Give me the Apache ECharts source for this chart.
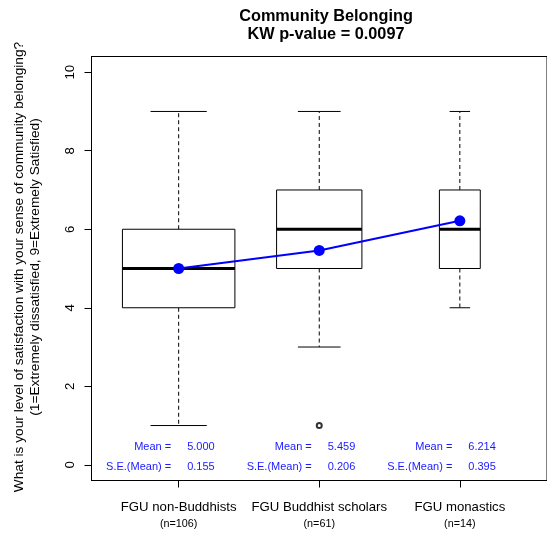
<!DOCTYPE html>
<html>
<head>
<meta charset="utf-8">
<script src="https://cdn.jsdelivr.net/npm/echarts@6/dist/echarts.min.js"></script>
<style>html,body{margin:0;padding:0;background:#fff}#c{width:547px;height:533px}</style>
</head>
<body>
<div id="c"></div>
<script>
// ---- data ----
var categories = ['FGU non-Buddhists', 'FGU Buddhist scholars', 'FGU monastics'];
var groupN = [106, 61, 14];
var whiskerLow = [1, 3, 4];
var q1 = [4, 5, 5];
var medians = [5, 6, 6];
var q3 = [6, 7, 7];
var whiskerHigh = [9, 9, 9];
var outliers = [[2, 1]];
var means = [5.000, 5.459, 6.214];
var seMeans = [0.155, 0.206, 0.395];
var yTicks = [0, 2, 4, 6, 8, 10];
var titleLines = ['Community Belonging', 'KW p-value = 0.0097'];
var yLabelLines = ['What is your level of satisfaction with your sense of community belonging?', '(1=Extremely dissatisfied, 9=Extremely Satisfied)'];

var FONT = '"Liberation Sans", Arial, Helvetica, sans-serif';
var maxN = Math.max.apply(null, groupN);

var boxData = categories.map(function (c, i) {
  return [i + 1, whiskerLow[i], q1[i], medians[i], q3[i], whiskerHigh[i], groupN[i]];
});
var meanData = categories.map(function (c, i) { return [i + 1, means[i]]; });
var statData = categories.map(function (c, i) { return [i + 1, means[i], seMeans[i]]; });

var chart = echarts.init(document.getElementById('c'), null, { renderer: 'canvas' });

function renderBox(params, api) {
  var x = api.value(0);
  var wUnits = 0.8 * Math.sqrt(api.value(6) / maxN);
  var w = api.size([wUnits, 0])[0];
  var pLo = api.coord([x, api.value(1)]);
  var pQ1 = api.coord([x, api.value(2)]);
  var pMed = api.coord([x, api.value(3)]);
  var pQ3 = api.coord([x, api.value(4)]);
  var pHi = api.coord([x, api.value(5)]);
  var cx = pMed[0];
  var blk = { stroke: '#000', lineWidth: 1, fill: null };
  var dash = { stroke: '#000', lineWidth: 1, lineDash: [4, 3] };
  return {
    type: 'group',
    children: [
      { type: 'line', shape: { x1: cx, y1: pQ3[1], x2: cx, y2: pHi[1] }, style: dash },
      { type: 'line', shape: { x1: cx, y1: pQ1[1], x2: cx, y2: pLo[1] }, style: dash },
      { type: 'line', shape: { x1: cx - w / 4, y1: pHi[1], x2: cx + w / 4, y2: pHi[1] }, style: blk },
      { type: 'line', shape: { x1: cx - w / 4, y1: pLo[1], x2: cx + w / 4, y2: pLo[1] }, style: blk },
      { type: 'rect', shape: { x: cx - w / 2, y: pQ3[1], width: w, height: pQ1[1] - pQ3[1] }, style: { stroke: '#000', lineWidth: 1, fill: '#fff' } },
      { type: 'line', shape: { x1: cx - w / 2, y1: pMed[1], x2: cx + w / 2, y2: pMed[1] }, style: { stroke: '#000', lineWidth: 3 } }
    ]
  };
}

function renderStats(params, api) {
  var x = api.value(0);
  var pMean = api.coord([x, 0.45]);
  var pSe = api.coord([x, -0.05]);
  var cx = pMean[0];
  var st = function (txt, px, py) {
    return { type: 'text', x: px, y: py, style: { text: txt, fill: '#1a1aff', font: '11px ' + FONT, align: 'right', verticalAlign: 'middle' } };
  };
  return {
    type: 'group',
    children: [
      st('Mean =', cx - 7.5, pMean[1]),
      st(api.value(1).toFixed(3), cx + 36, pMean[1]),
      st('S.E.(Mean) =', cx - 7.5, pSe[1]),
      st(api.value(2).toFixed(3), cx + 36, pSe[1])
    ]
  };
}

var option = {
  backgroundColor: '#fff',
  animation: false,
  title: {
    text: titleLines.join('\n'),
    left: 321, top: 2, textAlign: 'center',
    textStyle: { fontFamily: FONT, fontSize: 16.3, fontWeight: 'bold', color: '#000', lineHeight: 18.5 }
  },
  grid: {
    left: 91.5, top: 56.5, width: 458, height: 424,
    show: true, borderColor: '#000', borderWidth: 1, backgroundColor: 'transparent'
  },
  xAxis: {
    type: 'value', min: 0.38, max: 3.62,
    axisLine: { show: true, onZero: false, lineStyle: { color: '#000', width: 1 } },
    axisTick: { show: true, customValues: [1, 2, 3], length: 7, inside: false, lineStyle: { color: '#000' } },
    axisLabel: {
      customValues: [1, 2, 3], margin: 18.5,
      formatter: function (v) {
        var i = Math.round(v) - 1;
        return '{a|' + categories[i] + '}\n{b|(n=' + groupN[i] + ')}';
      },
      rich: {
        a: { fontFamily: FONT, fontSize: 13.2, color: '#000', lineHeight: 17 },
        b: { fontFamily: FONT, fontSize: 10.8, color: '#000', lineHeight: 17 }
      }
    },
    splitLine: { show: false }
  },
  yAxis: {
    type: 'value', min: -0.4, max: 10.4,
    axisLine: { show: true, onZero: false, lineStyle: { color: '#000', width: 1 } },
    axisTick: { show: true, customValues: yTicks, length: 7, lineStyle: { color: '#000' } },
    axisLabel: { customValues: yTicks, rotate: 90, margin: 15, fontFamily: FONT, fontSize: 13.2, color: '#000' },
    splitLine: { show: false }
  },
  graphic: [
    { type: 'text', x: 19, y: 267, rotation: Math.PI / 2,
      style: { text: yLabelLines[0], font: '13.7px ' + FONT, fill: '#000', align: 'center', verticalAlign: 'middle' } },
    { type: 'text', x: 35, y: 267, rotation: Math.PI / 2,
      style: { text: yLabelLines[1], font: '13.7px ' + FONT, fill: '#000', align: 'center', verticalAlign: 'middle' } }
  ],
  series: [
    { type: 'custom', renderItem: renderBox, data: boxData, z: 2, clip: false },
    { type: 'scatter', data: outliers, symbol: 'emptyCircle', symbolSize: 5,
      itemStyle: { color: '#000', borderColor: '#000', borderWidth: 1 }, z: 3 },
    { type: 'line', data: meanData, symbol: 'circle', symbolSize: 11,
      lineStyle: { color: '#0000ff', width: 2 }, itemStyle: { color: '#0000ff', borderWidth: 0 }, z: 4 },
    { type: 'custom', renderItem: renderStats, data: statData, z: 5, clip: false }
  ]
};
chart.setOption(option);
</script>
</body>
</html>
